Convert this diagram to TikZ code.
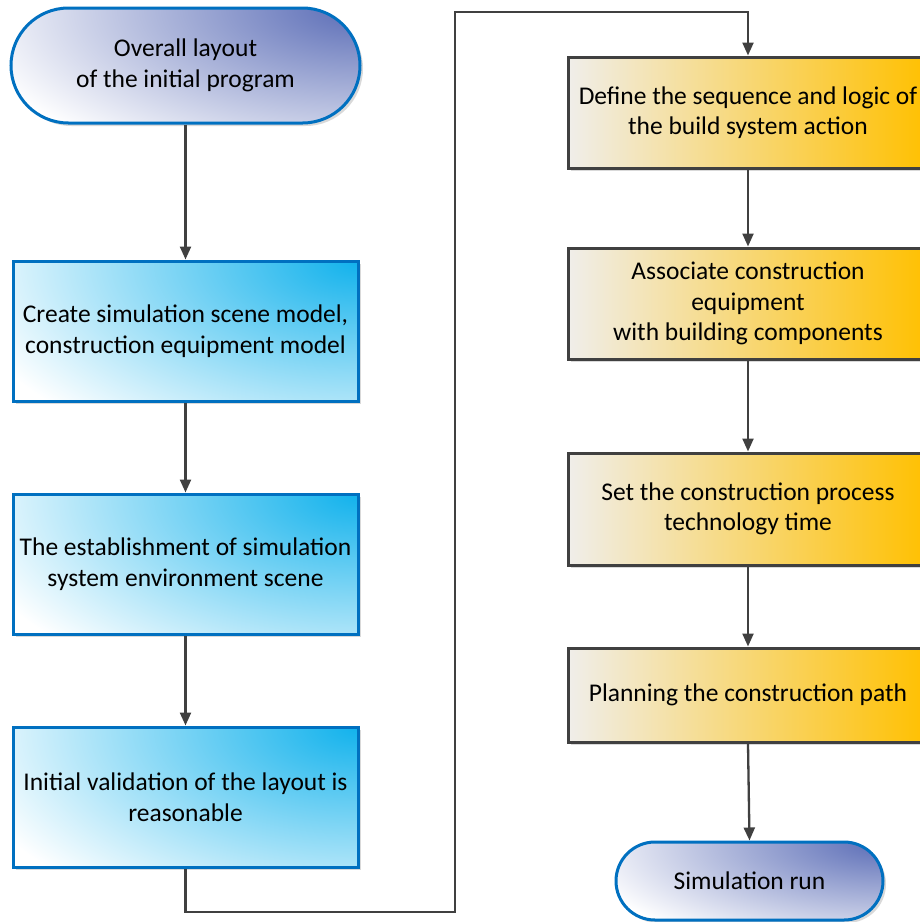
\documentclass[tikz,border=0pt]{standalone}
\usepackage{fontspec}
\setmainfont{Carlito}
\usetikzlibrary{shapes.misc,arrows.meta,shadows}
\definecolor{bluebord}{HTML}{0070C0}
\definecolor{termdark}{HTML}{5A6CB6}
\definecolor{cyandark}{HTML}{12B2EC}
\definecolor{orgdark}{HTML}{FFC000}
\definecolor{orgmid}{HTML}{F5D98A}
\definecolor{orglight}{HTML}{F0EEEA}
\definecolor{linegray}{HTML}{404040}
\begin{document}
\begin{tikzpicture}[x=1pt,y=-1pt,
  txt/.style={align=center,font=\fontsize{25.5}{30.5}\selectfont,text=black,inner sep=0pt},
  shad/.style={drop shadow={shadow xshift=3pt,shadow yshift=-3pt,opacity=0.15,fill=black}},
  rshade/.style n args={3}{fill=white,path picture={\shade[inner color=#1,outer color=white]
     (path picture bounding box.north east) ellipse [x radius=#2, y radius=#3];}},
  term/.style={txt,shad,rounded rectangle,draw=bluebord,line width=3pt},
  bluebox/.style={txt,shad,rectangle,draw=bluebord,line width=3pt,
    rshade={cyandark}{410pt}{215pt},minimum width=345pt,minimum height=140pt},
  orgbox/.style={txt,shad,rectangle,draw=linegray,line width=3pt,
    left color=orglight,middle color=orgmid,right color=orgdark,minimum width=360pt},
  conn/.style={draw=linegray,line width=2.3pt,-{Triangle[length=13pt,width=11pt]}}
]
\useasboundingbox (0,0) rectangle (920,922);
\clip (0,0) rectangle (920,922);

\node[term,rshade={termdark}{400pt}{175pt},minimum width=349pt,minimum height=115pt] (t1) at (185.5,65.5) {Overall layout\\of the initial program};
\node[bluebox] (b1) at (185.5,331) {Create simulation scene model,\\construction equipment model};
\node[bluebox] (b2) at (185.5,564) {The establishment of simulation\\system environment scene};
\node[bluebox] (b3) at (185.5,797) {Initial validation of the layout is\\reasonable};

\node[orgbox,minimum height=111pt] (b4) at (748,112.5) {Define the sequence and logic of\\the build system action};
\node[orgbox,minimum height=111pt] (b5) at (748,303.5) {Associate construction\\equipment\\with building components};
\node[orgbox,minimum height=112pt] (b6) at (748,509) {Set the construction process\\technology time};
\node[orgbox,minimum height=94pt] (b7) at (748,695) {Planning the construction path};
\node[term,rshade={termdark}{310pt}{115pt},minimum width=267pt,minimum height=78pt] (t2) at (749.5,881) {Simulation run};

\coordinate (ca) at (455,912);
\coordinate (cb) at (455,12);

\draw[conn] (t1.south) -- (b1.north);
\draw[conn] (b1.south) -- (b2.north);
\draw[conn] (b2.south) -- (b3.north);
\draw[conn] (b3.south) |- (ca) -- (cb) -| (b4.north);
\draw[conn] (b4.south) -- (b5.north);
\draw[conn] (b5.south) -- (b6.north);
\draw[conn] (b6.south) -- (b7.north);
\draw[conn] (b7.south) -- (t2.north);
\end{tikzpicture}
\end{document}
